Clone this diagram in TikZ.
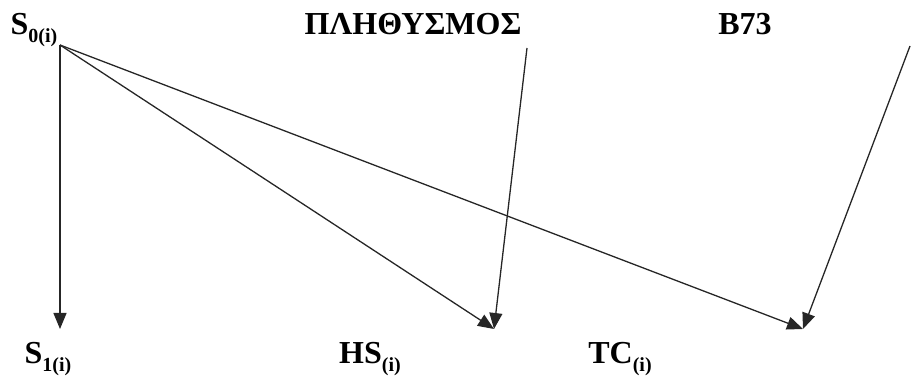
\documentclass[tikz,border=0pt]{standalone}
\usepackage{fontspec}
\setmainfont{Liberation Serif}
\usetikzlibrary{arrows.meta}
\newcommand\mysub[1]{\raisebox{-0.22em}{\fontsize{20}{20}\selectfont #1}}
\tikzset{
  lbl/.style={font=\fontsize{32}{36}\selectfont\bfseries, inner sep=0pt, anchor=base},
  conn/.style={line width=1.3pt, -{Triangle[length=16pt,width=13pt]}, color=black!85}
}
\begin{document}
\begin{tikzpicture}[x=1pt,y=-1pt]
\useasboundingbox (0,0) rectangle (911,379);
\node[lbl] (s0) at (34,35) {S\mysub{0(i)}};
\node[lbl] (pop) at (413,35) {ΠΛΗΘΥΣΜΟΣ};
\node[lbl] (b73) at (745,35) {B73};
\node[lbl] (s1) at (48,364) {S\mysub{1(i)}};
\node[lbl] (hs) at (370,364) {HS\mysub{(i)}};
\node[lbl] (tc) at (620,364) {TC\mysub{(i)}};
\coordinate (from) at (60,45);
\coordinate (popfrom) at (527,48);
\coordinate (b73from) at (910,46);
\coordinate (tS1) at (60,329);
\coordinate (tHS) at (494,329);
\coordinate (tTC) at (803,329);
\draw[conn] (from) -- (tS1);
\draw[conn] (from) -- (tHS);
\draw[conn] (from) -- (tTC);
\draw[conn] (popfrom) -- (tHS);
\draw[conn] (b73from) -- (tTC);
\end{tikzpicture}
\end{document}
